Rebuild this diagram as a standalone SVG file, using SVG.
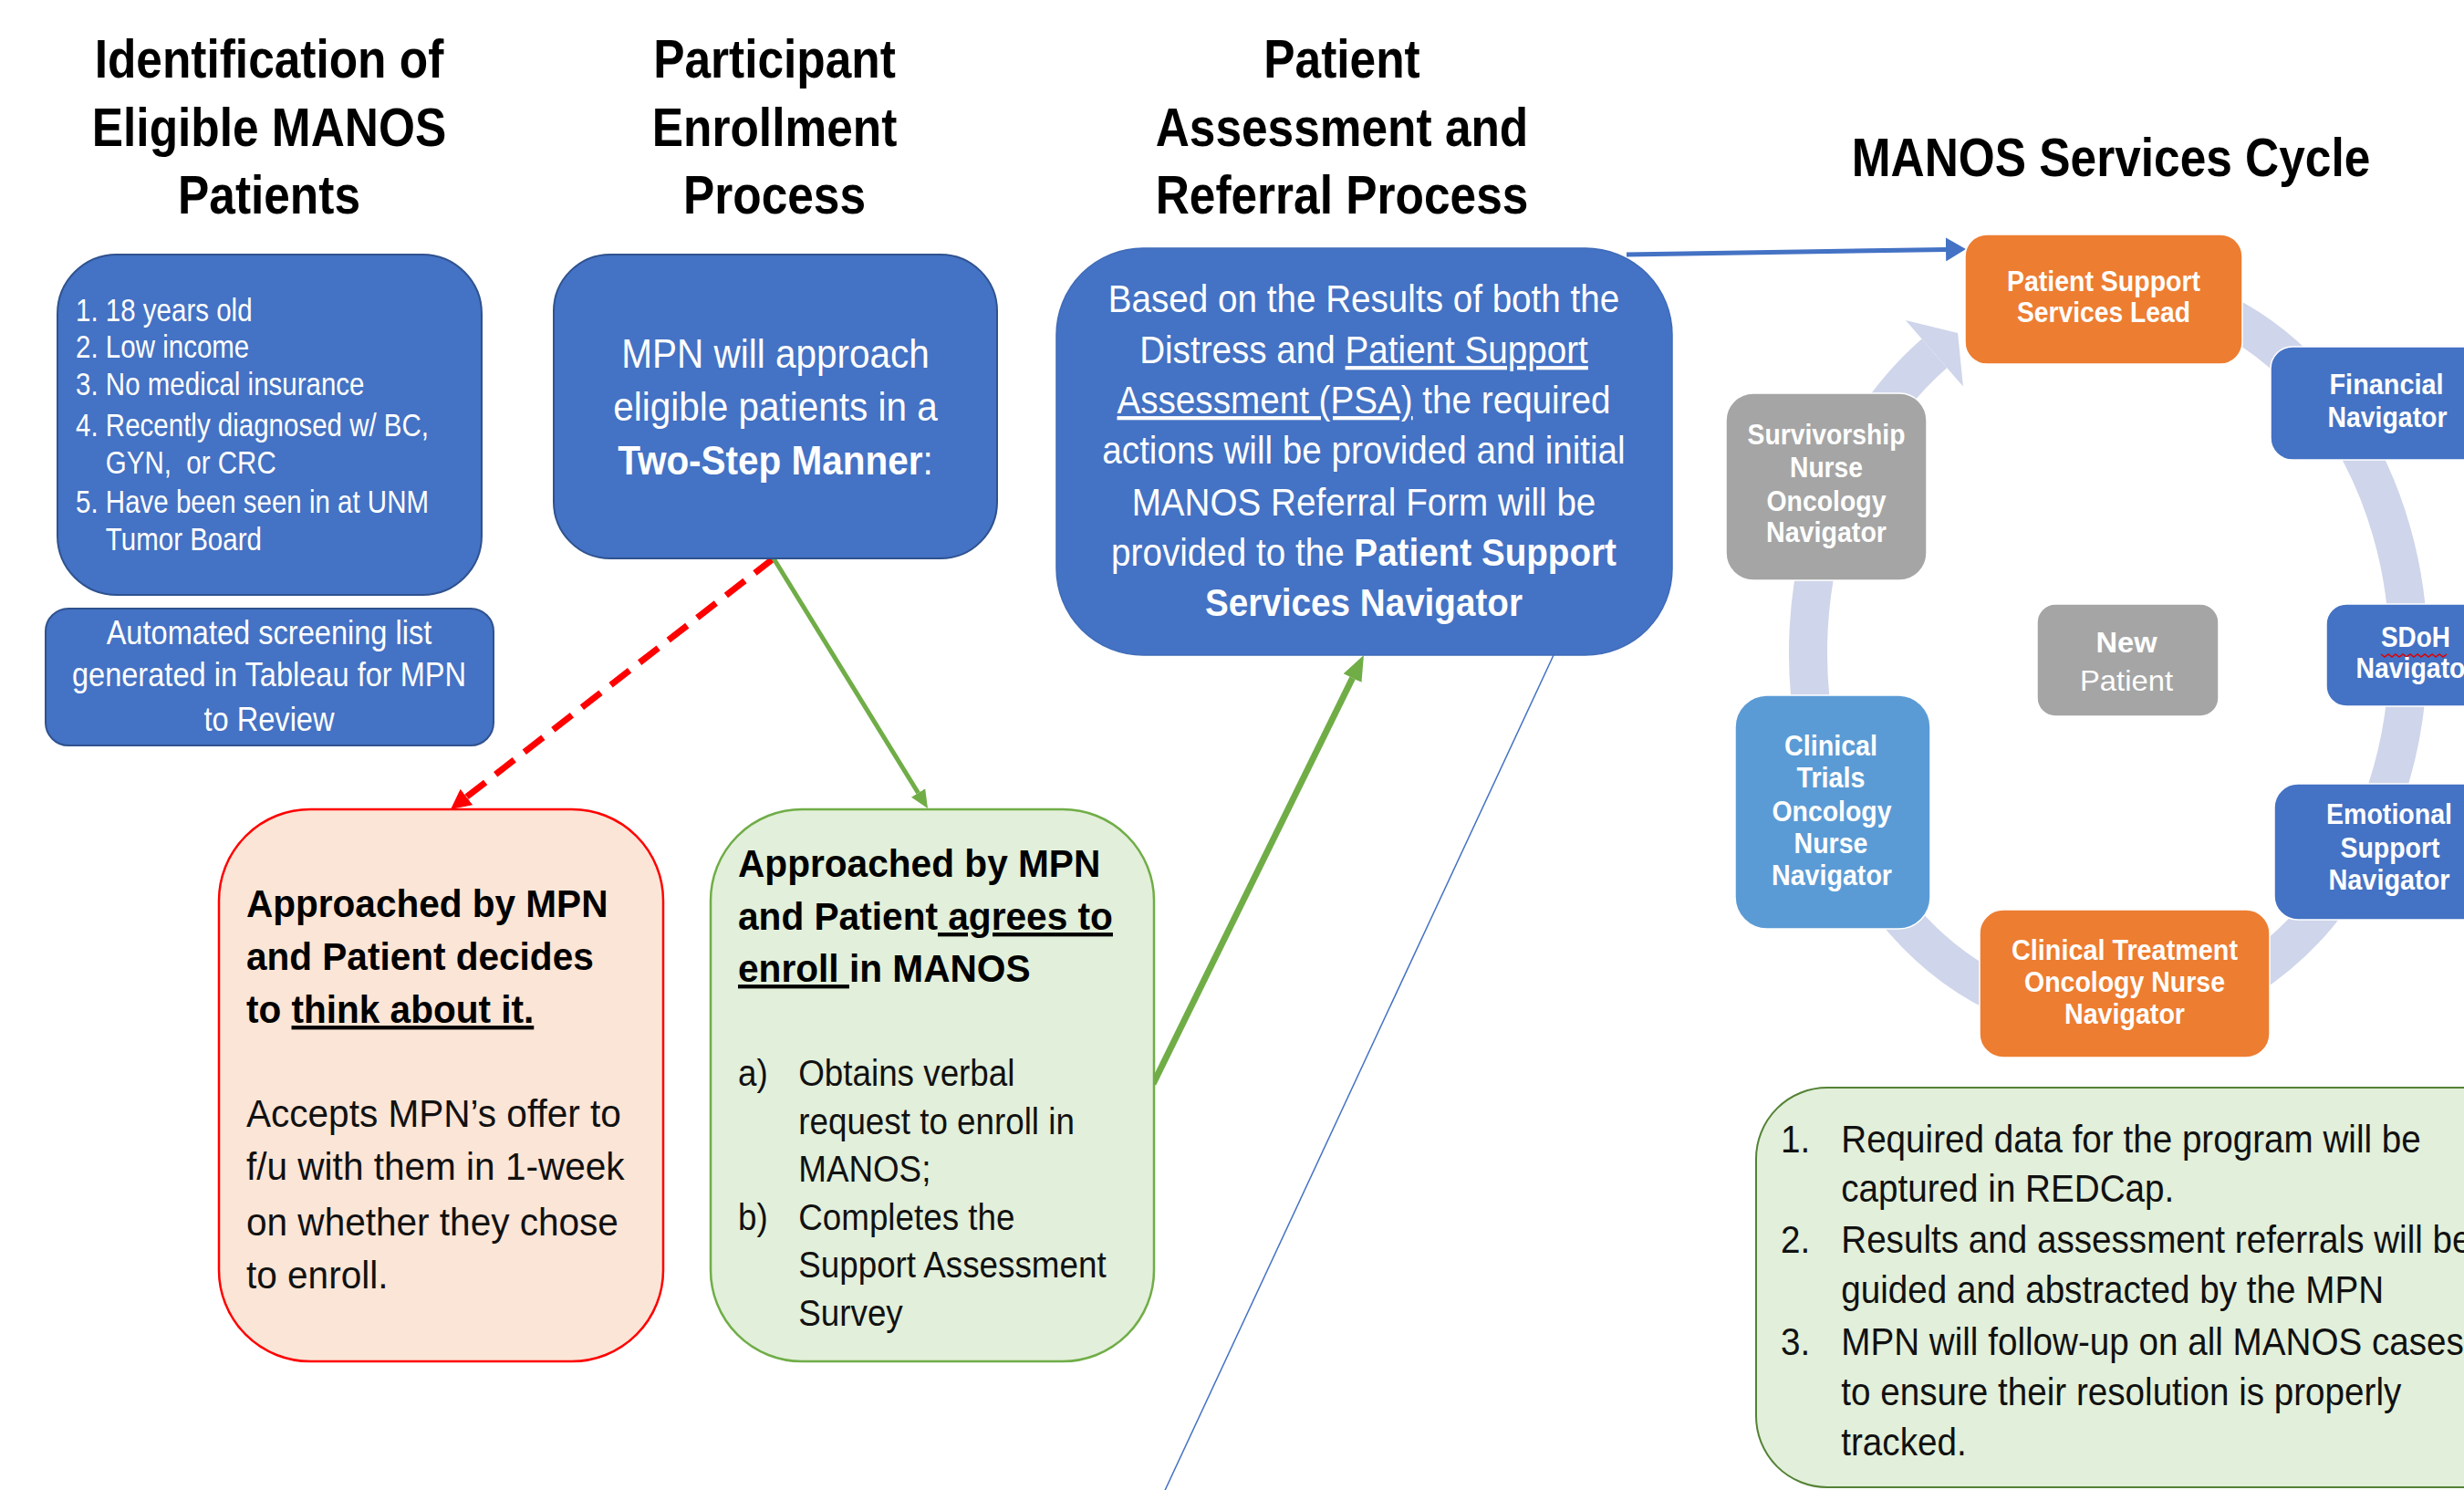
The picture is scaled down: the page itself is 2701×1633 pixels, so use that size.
<svg xmlns="http://www.w3.org/2000/svg" width="2701" height="1633" viewBox="0 0 2701 1633">
<defs>
<style>
text { font-family: "Liberation Sans", Arial, Helvetica, sans-serif; }
.ttl { font-size: 60px; font-weight: 700; fill: #000; text-anchor: middle; }
.wt { fill: #ffffff; }
.dk { fill: #111111; }
.b { font-weight: 700; }
.u { text-decoration: underline; }
.mid { text-anchor: middle; }
.boxblue { fill: #4472C4; stroke: #2F528F; stroke-width: 2; }
.lbl { font-size: 32px; font-weight: 700; fill: #ffffff; text-anchor: middle; }
.cn-blue { fill: #4472C4; stroke: #ffffff; stroke-width: 1.5; }
.cn-orange { fill: #ED7D31; stroke: #ffffff; stroke-width: 1.5; }
.cn-gray { fill: #A5A5A5; stroke: #ffffff; stroke-width: 1.5; }
.cn-lblue { fill: #5B9BD5; stroke: #ffffff; stroke-width: 1.5; }
</style>
<marker id="ah-red" markerUnits="userSpaceOnUse" markerWidth="22" markerHeight="22" refX="0" refY="11" orient="auto" viewBox="0 0 22 22"><path d="M0,0 L22,11 L0,22 z" fill="#FF0000"/></marker>
<marker id="ah-green-s" markerUnits="userSpaceOnUse" markerWidth="20" markerHeight="18" refX="0" refY="9" orient="auto" viewBox="0 0 20 18"><path d="M0,0 L20,9 L0,18 z" fill="#70AD47"/></marker>
<marker id="ah-green-l" markerUnits="userSpaceOnUse" markerWidth="28" markerHeight="22" refX="0" refY="11" orient="auto" viewBox="0 0 28 22"><path d="M0,0 L28,11 L0,22 z" fill="#70AD47"/></marker>
<marker id="ah-blue" markerUnits="userSpaceOnUse" markerWidth="22" markerHeight="26" refX="0" refY="13" orient="auto" viewBox="0 0 22 26"><path d="M0,0 L22,13 L0,26 z" fill="#4472C4"/></marker>
</defs>

<rect x="0" y="0" width="2701" height="1633" fill="#ffffff"/>

<g id="headers">
  <g transform="translate(295,0) scale(0.857,1)">
    <text class="ttl" x="0" y="85">Identification of</text>
    <text class="ttl" x="0" y="160">Eligible MANOS</text>
    <text class="ttl" x="0" y="234">Patients</text>
  </g>
  <g transform="translate(849,0) scale(0.857,1)">
    <text class="ttl" x="0" y="85">Participant</text>
    <text class="ttl" x="0" y="160">Enrollment</text>
    <text class="ttl" x="0" y="234">Process</text>
  </g>
  <g transform="translate(1471,0) scale(0.857,1)">
    <text class="ttl" x="0" y="85">Patient</text>
    <text class="ttl" x="0" y="160">Assessment and</text>
    <text class="ttl" x="0" y="234">Referral Process</text>
  </g>
  <g transform="translate(2314,0) scale(0.857,1)">
    <text class="ttl" x="0" y="193">MANOS Services Cycle</text>
  </g>
</g>

<g id="connectors">
  <path id="cycle-ring" d="M2423.5,337.2 A329,402 0 1 1 2120.4,387.3" fill="none" stroke="#CFD5EA" stroke-width="42"/>
  <polygon id="cycle-arrowhead" points="2088.9,351.1 2146.1,365 2151.9,423.5" fill="#CFD5EA"/>
  <line x1="848" y1="612" x2="511.4" y2="873.5" stroke="#FF0000" stroke-width="7" stroke-dasharray="26,14" marker-end="url(#ah-red)"/>
  <line x1="848" y1="612" x2="1006.5" y2="869" stroke="#70AD47" stroke-width="5" marker-end="url(#ah-green-s)"/>
  <line x1="1264" y1="1188" x2="1482.6" y2="743.1" stroke="#70AD47" stroke-width="7" marker-end="url(#ah-green-l)"/>
  <line x1="1783" y1="279" x2="2133" y2="273.4" stroke="#4472C4" stroke-width="5" marker-end="url(#ah-blue)"/>
  <line x1="1703" y1="718" x2="1273" y2="1642" stroke="#4472C4" stroke-width="1.5"/>
</g>

<g id="criteria">
  <rect class="boxblue" x="63" y="279" width="465" height="373" rx="65" ry="65"/>
  <g transform="translate(83,0) scale(0.843,1)" class="wt" font-size="35">
    <text class="wt" x="0" y="352">1.</text><text class="wt" x="39" y="352">18 years old</text>
    <text class="wt" x="0" y="392">2.</text><text class="wt" x="39" y="392">Low income</text>
    <text class="wt" x="0" y="433">3.</text><text class="wt" x="39" y="433">No medical insurance</text>
    <text class="wt" x="0" y="478">4.</text><text class="wt" x="39" y="478">Recently diagnosed w/ BC,</text>
    <text class="wt" x="39" y="519" xml:space="preserve">GYN,  or CRC</text>
    <text class="wt" x="0" y="562">5.</text><text class="wt" x="39" y="562">Have been seen in at UNM</text>
    <text class="wt" x="39" y="603">Tumor Board</text>
  </g>
</g>

<g id="screening-list">
  <rect class="boxblue" x="50" y="667" width="491" height="150" rx="25" ry="25"/>
  <g transform="translate(295,0) scale(0.905,1)" font-size="36">
    <text class="wt mid" x="0" y="706">Automated screening list</text>
    <text class="wt mid" x="0" y="752">generated in Tableau for MPN</text>
    <text class="wt mid" x="0" y="801">to Review</text>
  </g>
</g>

<g id="mpn-approach">
  <rect class="boxblue" x="607" y="279" width="486" height="333" rx="62" ry="62"/>
  <g transform="translate(850,0) scale(0.9,1)" font-size="45">
    <text class="wt mid" x="0" y="403">MPN will approach</text>
    <text class="wt mid" x="0" y="461">eligible patients in a</text>
    <text class="wt mid" x="0" y="520"><tspan class="b">Two-Step Manner</tspan>:</text>
  </g>
</g>

<g id="assessment-referral">
  <rect x="1158" y="272" width="675" height="446" rx="95" ry="95" fill="#4472C4" stroke="#3F6BB8" stroke-width="1.5"/>
  <g transform="translate(1495,0) scale(0.92,1)" font-size="42">
    <text class="wt mid" x="0" y="342">Based on the Results of both the</text>
    <text class="wt mid" x="0" y="398">Distress and <tspan class="u">Patient Support</tspan></text>
    <text class="wt mid" x="0" y="453"><tspan class="u">Assessment (PSA)</tspan> the required</text>
    <text class="wt mid" x="0" y="508">actions will be provided and initial</text>
    <text class="wt mid" x="0" y="565">MANOS Referral Form will be</text>
    <text class="wt mid" x="0" y="620">provided to the <tspan class="b">Patient Support</tspan></text>
    <text class="wt mid b" x="0" y="675">Services Navigator</text>
  </g>
</g>

<g id="think-about-it">
  <rect x="240" y="887" width="487" height="605" rx="100" ry="100" fill="#FBE5D6" stroke="#FF0000" stroke-width="2.5"/>
  <g transform="translate(270,0) scale(0.943,1)" font-size="43">
    <text class="b" fill="#000" x="0" y="1005">Approached by MPN</text>
    <text class="b" fill="#000" x="0" y="1063">and Patient decides</text>
    <text class="b" fill="#000" x="0" y="1121">to <tspan class="u">think about it.</tspan></text>
    <text class="dk" x="0" y="1235">Accepts MPN’s offer to</text>
    <text class="dk" x="0" y="1293">f/u with them in 1-week</text>
    <text class="dk" x="0" y="1354">on whether they chose</text>
    <text class="dk" x="0" y="1412">to enroll.</text>
  </g>
</g>

<g id="agrees-to-enroll">
  <rect x="779" y="887" width="486" height="605" rx="100" ry="100" fill="#E2EFDA" stroke="#70AD47" stroke-width="2.5"/>
  <g transform="translate(809,0) scale(0.945,1)" font-size="43">
    <text class="b" fill="#000" x="0" y="961">Approached by MPN</text>
    <text class="b" fill="#000" x="0" y="1019">and Patient<tspan class="u"> agrees to</tspan></text>
    <text class="b" fill="#000" x="0" y="1076"><tspan class="u">enroll </tspan>in MANOS</text>
  </g>
  <g transform="translate(809,0) scale(0.92,1)" font-size="40">
    <text class="dk" x="0" y="1190">a)</text><text class="dk" x="72" y="1190">Obtains verbal</text>
    <text class="dk" x="72" y="1243">request to enroll in</text>
    <text class="dk" x="72" y="1295">MANOS;</text>
    <text class="dk" x="0" y="1348">b)</text><text class="dk" x="72" y="1348">Completes the</text>
    <text class="dk" x="72" y="1400">Support Assessment</text>
    <text class="dk" x="72" y="1453">Survey</text>
  </g>
</g>

<g id="pssl">
  <rect class="cn-orange" x="2154" y="257" width="304" height="142" rx="24" ry="24"/>
  <text class="lbl" x="2306" y="319" textLength="212" lengthAdjust="spacingAndGlyphs">Patient Support</text>
  <text class="lbl" x="2306" y="353" textLength="190" lengthAdjust="spacingAndGlyphs">Services Lead</text>
</g>

<g id="financial">
  <rect class="cn-blue" x="2489" y="380" width="250" height="124" rx="24" ry="24"/>
  <text class="lbl" x="2616" y="432" textLength="125" lengthAdjust="spacingAndGlyphs">Financial</text>
  <text class="lbl" x="2617" y="468" textLength="131" lengthAdjust="spacingAndGlyphs">Navigator</text>
</g>

<g id="sdoh">
  <rect class="cn-blue" x="2550" y="662" width="200" height="112" rx="22" ry="22"/>
  <text class="lbl" x="2648" y="709" textLength="76" lengthAdjust="spacingAndGlyphs">SDoH</text>
  <path d="M2610,717 l4,3 l4,-3 l4,3 l4,-3 l4,3 l4,-3 l4,3 l4,-3 l4,3 l4,-3 l4,3 l4,-3 l4,3 l4,-3 l4,3 l4,-3 l4,3 l4,-3" fill="none" stroke="#E00000" stroke-width="1.5"/>
  <text class="lbl" x="2648" y="743" textLength="131" lengthAdjust="spacingAndGlyphs">Navigator</text>
</g>

<g id="emotional">
  <rect class="cn-blue" x="2493" y="859" width="250" height="149" rx="26" ry="26"/>
  <text class="lbl" x="2619" y="903" textLength="138" lengthAdjust="spacingAndGlyphs">Emotional</text>
  <text class="lbl" x="2620" y="940" textLength="109" lengthAdjust="spacingAndGlyphs">Support</text>
  <text class="lbl" x="2619" y="975" textLength="133" lengthAdjust="spacingAndGlyphs">Navigator</text>
</g>

<g id="clinical-treatment">
  <rect class="cn-orange" x="2170" y="997" width="318" height="162" rx="26" ry="26"/>
  <text class="lbl" x="2329" y="1052" textLength="248" lengthAdjust="spacingAndGlyphs">Clinical Treatment</text>
  <text class="lbl" x="2329" y="1087" textLength="220" lengthAdjust="spacingAndGlyphs">Oncology Nurse</text>
  <text class="lbl" x="2329" y="1122" textLength="132" lengthAdjust="spacingAndGlyphs">Navigator</text>
</g>

<g id="clinical-trials">
  <rect class="cn-lblue" x="1902" y="762" width="214" height="256" rx="35" ry="35"/>
  <text class="lbl" x="2007" y="828" textLength="102" lengthAdjust="spacingAndGlyphs">Clinical</text>
  <text class="lbl" x="2007" y="863" textLength="75" lengthAdjust="spacingAndGlyphs">Trials</text>
  <text class="lbl" x="2008" y="900" textLength="131" lengthAdjust="spacingAndGlyphs">Oncology</text>
  <text class="lbl" x="2007" y="935" textLength="81" lengthAdjust="spacingAndGlyphs">Nurse</text>
  <text class="lbl" x="2008" y="970" textLength="132" lengthAdjust="spacingAndGlyphs">Navigator</text>
</g>

<g id="survivorship">
  <rect class="cn-gray" x="1892" y="431" width="220" height="205" rx="30" ry="30"/>
  <text class="lbl" x="2002" y="487" textLength="173" lengthAdjust="spacingAndGlyphs">Survivorship</text>
  <text class="lbl" x="2002" y="523" textLength="80" lengthAdjust="spacingAndGlyphs">Nurse</text>
  <text class="lbl" x="2002" y="560" textLength="131" lengthAdjust="spacingAndGlyphs">Oncology</text>
  <text class="lbl" x="2002" y="594" textLength="132" lengthAdjust="spacingAndGlyphs">Navigator</text>
</g>

<g id="new-patient">
  <rect class="cn-gray" x="2233" y="662" width="199" height="123" rx="20" ry="20"/>
  <text class="lbl" x="2331" y="715" font-size="36" textLength="67" lengthAdjust="spacingAndGlyphs">New</text>
  <text class="lbl" x="2331" y="757" font-size="36" font-weight="400" style="font-weight:400" textLength="102" lengthAdjust="spacingAndGlyphs">Patient</text>
</g>

<g id="data-notes">
  <rect x="1925" y="1192" width="900" height="438" rx="78" ry="78" fill="#E2EFDA" stroke="#548235" stroke-width="2"/>
  <g transform="translate(1952,0) scale(0.92,1)" font-size="42">
    <text class="dk" x="0" y="1263">1.</text><text class="dk" x="72" y="1263">Required data for the program will be</text>
    <text class="dk" x="72" y="1317">captured in REDCap.</text>
    <text class="dk" x="0" y="1373">2.</text><text class="dk" x="72" y="1373">Results and assessment referrals will be</text>
    <text class="dk" x="72" y="1428">guided and abstracted by the MPN</text>
    <text class="dk" x="0" y="1485">3.</text><text class="dk" x="72" y="1485">MPN will follow-up on all MANOS cases</text>
    <text class="dk" x="72" y="1540">to ensure their resolution is properly</text>
    <text class="dk" x="72" y="1595">tracked.</text>
  </g>
</g>
</svg>
